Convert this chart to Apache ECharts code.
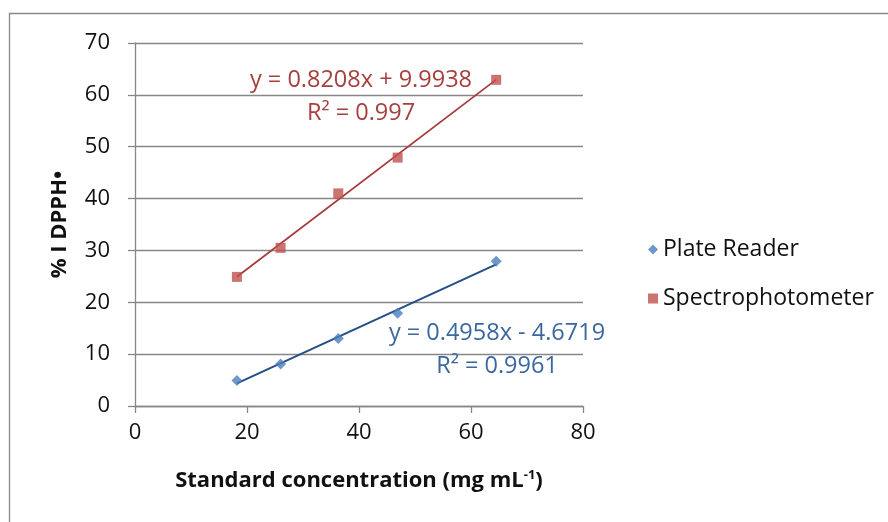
<!DOCTYPE html>
<html>
<head>
<meta charset="utf-8">
<style>
  html, body { margin: 0; padding: 0; background: #fff; }
  #chart { width: 888px; height: 522px; }
</style>
<script src="https://cdn.jsdelivr.net/npm/echarts@6/dist/echarts.min.js"></script>
</head>
<body>
<div id="chart"></div>
<script>
// Standard concentrations (mg mL-1)
const concentrations = [18.2, 26.0, 36.3, 46.9, 64.5];
// % inhibition of DPPH• measured by each instrument
const plateReader = [4.9, 8.1, 13.0, 17.9, 27.9];
const spectrophotometer = [24.9, 30.5, 41.0, 47.9, 62.9];
// Linear fits: [slope, intercept, R²]
const plateFit = [0.4958, -4.6719, 0.9961];
const spectroFit = [0.8208, 9.9938, 0.997];
// Axis ticks
const xTicks = [0, 20, 40, 60, 80];
const yTicks = [0, 10, 20, 30, 40, 50, 60, 70];

const FONT = 'Open Sans';
const TXT = 22;

function pairs(xs, ys) { return xs.map((x, i) => [x, ys[i]]); }
function fitLine(fit) {
  const x0 = Math.min(...concentrations), x1 = Math.max(...concentrations);
  return [[x0, fit[0] * x0 + fit[1]], [x1, fit[0] * x1 + fit[1]]];
}
function eqText(fit) {
  const sign = fit[1] < 0 ? ' - ' : ' + ';
  return 'y = ' + fit[0] + 'x' + sign + Math.abs(fit[1]);
}
function fitLabel(text, x, y, color) {
  return {
    type: 'text', silent: true, z: 10, x: x, y: y,
    style: { text: text, fill: color, font: '23.5px "' + FONT + '"', align: 'center', verticalAlign: 'middle' }
  };
}

const chart = echarts.init(document.getElementById('chart'), null, { renderer: 'canvas' });

const axisLine = { show: true, lineStyle: { color: '#878787', width: 1.3 } };
const axisTick = { show: true, length: 7, inside: false, lineStyle: { color: '#878787', width: 1.3 } };

chart.setOption({
  animation: false,
  backgroundColor: '#fff',
  grid: { left: 135, right: 305, top: 43, bottom: 116, containLabel: false },
  xAxis: {
    type: 'value',
    min: xTicks[0], max: xTicks[xTicks.length - 1], interval: xTicks[1] - xTicks[0],
    axisLine, axisTick,
    splitLine: { show: false },
    axisLabel: { color: '#111', fontFamily: FONT, fontSize: TXT, margin: 16 },
    name: 'Standard concentration (mg mL{sup|-1})',
    nameLocation: 'middle', nameGap: 63,
    nameTextStyle: {
      color: '#111', fontFamily: FONT, fontSize: 22, fontWeight: 'bold',
      rich: { sup: { fontFamily: FONT, fontSize: 13, fontWeight: 'bold', color: '#111', verticalAlign: 'top', padding: [0, 0, 10, 0] } }
    }
  },
  yAxis: {
    type: 'value',
    min: yTicks[0], max: yTicks[yTicks.length - 1], interval: yTicks[1] - yTicks[0],
    axisLine, axisTick,
    splitLine: { show: true, lineStyle: { color: '#878787', width: 1.3 } },
    axisLabel: { color: '#111', fontFamily: FONT, fontSize: TXT, margin: 25 },
    name: '% I DPPH•',
    nameLocation: 'middle', nameGap: 64, nameRotate: 90,
    nameTextStyle: { color: '#111', fontFamily: FONT, fontSize: 22, fontWeight: 'bold' }
  },
  legend: {
    orient: 'vertical', left: 643, top: 233,
    itemWidth: 10, itemHeight: 10, itemGap: 26,
    textStyle: { color: '#111', fontFamily: FONT, fontSize: 23 },
    data: [
      { name: 'Plate Reader', icon: 'diamond' },
      { name: 'Spectrophotometer', icon: 'rect' }
    ]
  },
  series: [
    {
      name: 'Plate Reader trend', type: 'line', data: fitLine(plateFit),
      symbol: 'none', lineStyle: { color: '#254D86', width: 2 }, z: 2, silent: true
    },
    {
      name: 'Spectrophotometer trend', type: 'line', data: fitLine(spectroFit),
      symbol: 'none', lineStyle: { color: '#A6393A', width: 1.7 }, z: 2, silent: true
    },
    {
      name: 'Plate Reader', type: 'scatter', data: pairs(concentrations, plateReader),
      symbol: 'diamond', symbolSize: 11, itemStyle: { color: '#4A7EBB' }, z: 3
    },
    {
      name: 'Spectrophotometer', type: 'scatter', data: pairs(concentrations, spectrophotometer),
      symbol: 'rect', symbolSize: 10, itemStyle: { color: '#C0504D' }, z: 3
    }
  ],
  graphic: [
    {
      type: 'rect', silent: true,
      shape: { x: 9.5, y: 13.5, width: 900, height: 540 },
      style: { fill: 'none', stroke: '#888', lineWidth: 1.3 }
    },
    fitLabel(eqText(spectroFit), 361, 80, '#A6403D'),
    fitLabel('R² = ' + spectroFit[2], 361, 113, '#A6403D'),
    fitLabel(eqText(plateFit), 497, 333, '#3B67A0'),
    fitLabel('R² = ' + plateFit[2], 497, 366, '#3B67A0')
  ]
});
</script>
</body>
</html>
